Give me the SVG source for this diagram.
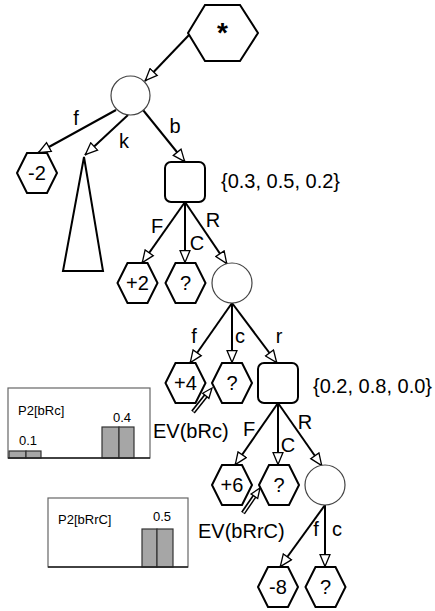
<svg xmlns="http://www.w3.org/2000/svg" width="435" height="611" viewBox="0 0 435 611">
<style>
text{font-family:"Liberation Sans",Arial,sans-serif;fill:#000}
.hex{fill:#fff;stroke:#000;stroke-width:2}
.chance{fill:#fff;stroke:#444;stroke-width:1.2}
.dec{fill:#fff;stroke:#000;stroke-width:2}
.edge{stroke:#000;stroke-width:2;fill:none;marker-end:url(#arr)}
.evo{stroke:#000;stroke-width:4.6;fill:none}
.evi{stroke:#fff;stroke-width:1.4;fill:none}
.head{fill:#fff;stroke:#000;stroke-width:1.3}
.lbl{font-size:20px;text-anchor:middle}
.nl{font-size:20px;text-anchor:middle}
.prob{font-size:20px}
.ctitle{font-size:13px}
.cval{font-size:13px;text-anchor:middle}
.box{fill:#fff;stroke:#666;stroke-width:1.2}
.bar{fill:#a6a6a6;stroke:#333;stroke-width:1.2}
</style>
<defs>
<marker id="arr" markerUnits="userSpaceOnUse" markerWidth="14" markerHeight="12" refX="12.5" refY="5" orient="auto" viewBox="-1 -1 14 12">
<path d="M0,0 L12,5 L0,10 Z" fill="#fff" stroke="#000" stroke-width="1.3"/>
</marker>
</defs>

<g id="connectors">
<line class="edge" x1="189" y1="35" x2="145" y2="81"/>
<line class="edge" x1="116" y1="110" x2="38" y2="153"/>
<line class="edge" x1="128" y1="115" x2="85" y2="155"/>
<line class="edge" x1="143" y1="110" x2="185" y2="162"/>
<line class="edge" x1="185" y1="202" x2="142" y2="263"/>
<line class="edge" x1="185" y1="202" x2="185" y2="263"/>
<line class="edge" x1="185" y1="202" x2="227" y2="264"/>
<line class="edge" x1="232" y1="303" x2="190" y2="363"/>
<line class="edge" x1="232" y1="303" x2="232" y2="363"/>
<line class="edge" x1="232" y1="303" x2="277" y2="363"/>
<line class="edge" x1="278" y1="403" x2="235" y2="465"/>
<line class="edge" x1="278" y1="403" x2="278" y2="465"/>
<line class="edge" x1="278" y1="403" x2="322" y2="466"/>
<line class="edge" x1="325" y1="505" x2="280" y2="567"/>
<line class="edge" x1="325" y1="505" x2="325" y2="567"/>
<g id="ev-arrow1">
<line class="evo" x1="193" y1="412" x2="206.5" y2="395"/>
<line class="evi" x1="193.5" y1="411.5" x2="207" y2="394.5"/>
<polygon class="head" points="212,388 208.9,398.3 202.7,393.3"/>
</g>
<g id="ev-arrow2">
<line class="evo" x1="243" y1="513" x2="255" y2="495.5"/>
<line class="evi" x1="243.5" y1="512.5" x2="255.5" y2="495"/>
<polygon class="head" points="260,488 257.7,498.5 251.1,494"/>
</g>
<text class="lbl" x="76" y="125">f</text>
<text class="lbl" x="124" y="148">k</text>
<text class="lbl" x="175" y="133">b</text>
<text class="lbl" x="157" y="233">F</text>
<text class="lbl" x="197" y="250">C</text>
<text class="lbl" x="213" y="227">R</text>
<text class="lbl" x="194" y="343">f</text>
<text class="lbl" x="240" y="343">c</text>
<text class="lbl" x="279" y="343">r</text>
<text class="lbl" x="249" y="436">F</text>
<text class="lbl" x="288" y="452">C</text>
<text class="lbl" x="305" y="429">R</text>
<text class="lbl" x="316" y="536">f</text>
<text class="lbl" x="337" y="536">c</text>
</g>

<g id="root">
<polygon class="hex" points="188,33 205,5 240,5 258,33 240,61 205,61"/>
<text class="nl" x="222.5" y="42" style="font-size:28px;font-weight:bold">*</text>
</g>
<g id="chance1"><circle class="chance" cx="130.5" cy="95.5" r="19.5"/></g>
<g id="leaf-m2">
<polygon class="hex" points="17,173 27,153 47,153 57,173 47,193 27,193"/>
<text class="nl" x="37" y="180">-2</text>
</g>
<g id="subtree"><polygon fill="#fff" stroke="#000" stroke-width="2" points="84,157 63,271 103,271"/></g>
<g id="decision1"><rect class="dec" x="165" y="162" width="40" height="40" rx="6"/></g>
<g id="probs1"><text class="prob" x="221" y="188">{0.3, 0.5, 0.2}</text></g>
<g id="leaf-p2">
<polygon class="hex" points="117.5,283 127.5,263 147.5,263 157.5,283 147.5,303 127.5,303"/>
<text class="nl" x="137.5" y="290">+2</text>
</g>
<g id="leaf-q1">
<polygon class="hex" points="165.5,283 175.5,263 195.5,263 205.5,283 195.5,303 175.5,303"/>
<text class="nl" x="185.5" y="290">?</text>
</g>
<g id="chance2"><circle class="chance" cx="232" cy="283" r="20"/></g>
<g id="leaf-p4">
<polygon class="hex" points="165.5,383 175.5,363 195.5,363 205.5,383 195.5,403 175.5,403"/>
<text class="nl" x="185.5" y="390">+4</text>
</g>
<g id="leaf-q2">
<polygon class="hex" points="212,383 222,363 242,363 252,383 242,403 222,403"/>
<text class="nl" x="232" y="390">?</text>
</g>
<g id="decision2"><rect class="dec" x="258" y="363" width="40" height="40" rx="6"/></g>
<g id="probs2"><text class="prob" x="313" y="393">{0.2, 0.8, 0.0}</text></g>
<g id="ev1"><text class="prob" x="153" y="438">EV(bRc)</text></g>
<g id="leaf-p6">
<polygon class="hex" points="212,485 222,465 242,465 252,485 242,505 222,505"/>
<text class="nl" x="232" y="492">+6</text>
</g>
<g id="leaf-q3">
<polygon class="hex" points="259,485 269,465 289,465 299,485 289,505 269,505"/>
<text class="nl" x="279" y="492">?</text>
</g>
<g id="chance3"><circle class="chance" cx="325" cy="485" r="20"/></g>
<g id="ev2"><text class="prob" x="198" y="538">EV(bRrC)</text></g>
<g id="leaf-m8">
<polygon class="hex" points="258,587 268,567 288,567 298,587 288,607 268,607"/>
<text class="nl" x="278" y="594">-8</text>
</g>
<g id="leaf-q4">
<polygon class="hex" points="305.5,587 315.5,567 335.5,567 345.5,587 335.5,607 315.5,607"/>
<text class="nl" x="325.5" y="594">?</text>
</g>

<g id="chart1">
<rect class="box" x="8" y="388" width="142" height="70"/>
<text class="ctitle" x="18" y="415">P2[bRc]</text>
<rect class="bar" x="9" y="451" width="17" height="7"/>
<rect class="bar" x="26" y="451" width="15" height="7"/>
<text class="cval" x="28" y="445">0.1</text>
<rect class="bar" x="102" y="427" width="17" height="31"/>
<rect class="bar" x="119" y="427" width="15" height="31"/>
<text class="cval" x="122" y="422">0.4</text>
<line x1="8" y1="458" x2="150" y2="458" stroke="#222" stroke-width="1.5"/>
</g>
<g id="chart2">
<rect class="box" x="48" y="498" width="140" height="69"/>
<text class="ctitle" x="58" y="524">P2[bRrC]</text>
<rect class="bar" x="142" y="529" width="15" height="38"/>
<rect class="bar" x="157" y="529" width="16" height="38"/>
<text class="cval" x="162" y="521">0.5</text>
<line x1="48" y1="567" x2="188" y2="567" stroke="#222" stroke-width="1.5"/>
</g>
</svg>
